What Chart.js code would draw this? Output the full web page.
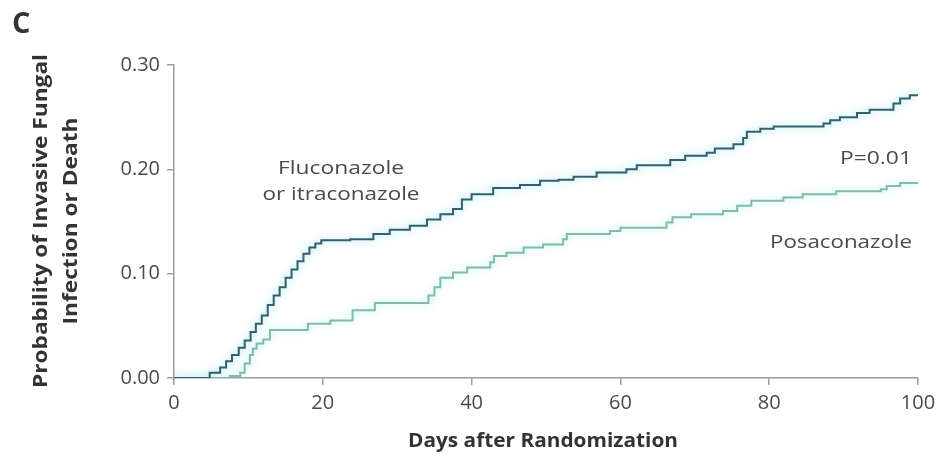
<!DOCTYPE html>
<html>
<head>
<meta charset="utf-8">
<script src="https://cdn.jsdelivr.net/npm/chart.js@4"></script>
<style>
  html, body { margin: 0; padding: 0; background: #ffffff; }
  #wrap { width: 942px; height: 467px; position: relative; }
</style>
</head>
<body>
<div id="wrap"><canvas id="km" width="942" height="467"></canvas></div>
<script>
// Kaplan–Meier style cumulative incidence, day of each step and the value after it
const flucDays = [0, 4.8, 6.2, 7.0, 7.8, 8.7, 9.5, 10.3, 11.0, 11.8, 12.6, 13.4, 14.2, 15.0, 15.8, 16.6, 17.4, 18.2, 19.0, 19.8,
  23.7, 26.8, 29.0, 31.7, 34.0, 35.8, 37.5, 38.7, 40.0, 42.9, 46.5, 49.2, 51.7, 53.7, 56.8, 60.8, 62.2, 66.7, 68.7, 71.6,
  72.7, 75.2, 76.5, 77.0, 78.8, 80.6, 87.3, 88.2, 89.5, 91.8, 93.5, 96.7, 97.6, 98.9, 100];
const flucProb = [0, 0.005, 0.010, 0.016, 0.022, 0.029, 0.036, 0.044, 0.052, 0.060, 0.070, 0.079, 0.087, 0.096, 0.104, 0.112, 0.119, 0.125, 0.129, 0.132,
  0.133, 0.138, 0.142, 0.146, 0.152, 0.157, 0.162, 0.171, 0.176, 0.182, 0.185, 0.189, 0.190, 0.193, 0.197, 0.200, 0.204, 0.209, 0.213, 0.216,
  0.220, 0.224, 0.230, 0.236, 0.239, 0.241, 0.244, 0.247, 0.250, 0.254, 0.257, 0.263, 0.268, 0.271, 0.271];

const posaDays = [0, 7.5, 8.9, 9.5, 10.2, 10.6, 11.1, 12.0, 12.9, 18.0, 21.0, 24.0, 27.0, 34.2, 35.0, 35.8, 37.5, 39.4, 42.5, 43.0,
  44.7, 47.0, 49.6, 52.3, 52.8, 58.6, 60.0, 66.2, 67.0, 69.5, 73.8, 75.7, 77.6, 81.9, 84.5, 89.0, 95.0, 95.8, 97.6, 100];
const posaProb = [0, 0.002, 0.005, 0.014, 0.022, 0.028, 0.033, 0.037, 0.046, 0.052, 0.055, 0.065, 0.072, 0.079, 0.087, 0.096, 0.101, 0.106, 0.111, 0.117,
  0.120, 0.125, 0.128, 0.133, 0.138, 0.141, 0.144, 0.149, 0.154, 0.157, 0.160, 0.165, 0.170, 0.173, 0.176, 0.179, 0.181, 0.184, 0.187, 0.187];

const xTicks = [0, 20, 40, 60, 80, 100];
const yTicks = [0.00, 0.10, 0.20, 0.30];

const seriesNames = ['Fluconazole or itraconazole', 'Posaconazole'];

const toPoints = (days, prob) => days.map((d, i) => ({ x: d, y: prob[i] }));

const FONT = '"Open Sans", "Noto Sans", sans-serif';
const AXIS = '#9c9c9c';
const TEXT = '#4a4a4a';

// soft halo under each curve
const glow = {
  id: 'glow',
  beforeDatasetDraw(chart, args) {
    const ctx = chart.ctx;
    ctx.save();
    ctx.shadowColor = chart.data.datasets[args.index].glowColor;
    ctx.shadowBlur = 8;
  },
  afterDatasetDraw(chart) {
    chart.ctx.restore();
  }
};

// text drawn with a horizontal stretch so it spans the given width
function stretchedText(ctx, text, x, y, align, width) {
  const natural = ctx.measureText(text).width;
  const k = width / natural;
  ctx.save();
  ctx.translate(x, y);
  ctx.scale(k, 1);
  ctx.textAlign = align;
  ctx.fillText(text, 0, 0);
  ctx.restore();
}

// panel letter, axis titles and curve labels
const labels = {
  id: 'labels',
  afterDraw(chart) {
    const ctx = chart.ctx;
    const area = chart.chartArea;
    ctx.save();
    ctx.fillStyle = '#333333';
    ctx.textBaseline = 'alphabetic';

    ctx.font = `700 29px ${FONT}`;
    ctx.textAlign = 'left';
    ctx.fillText('C', 12, 33);

    // y title, two rotated lines
    const yMid = (area.top + area.bottom) / 2;
    ctx.font = `700 20px ${FONT}`;
    ctx.save();
    ctx.translate(0, yMid - 0.5);
    ctx.rotate(-Math.PI / 2);
    stretchedText(ctx, 'Probability of Invasive Fungal', 0, 47, 'center', 334);
    stretchedText(ctx, 'Infection or Death', 0, 77, 'center', 207);
    ctx.restore();

    // x title
    stretchedText(ctx, 'Days after Randomization', (area.left + area.right) / 2 - 3, 447, 'center', 270);

    // curve labels
    ctx.fillStyle = TEXT;
    ctx.font = `400 19px ${FONT}`;
    stretchedText(ctx, 'Fluconazole', 341, 174, 'center', 126);
    stretchedText(ctx, 'or itraconazole', 341, 200, 'center', 157);
    stretchedText(ctx, 'P=0.01', 912, 164, 'right', 72);
    stretchedText(ctx, 'Posaconazole', 912, 248, 'right', 142);
    ctx.restore();
  }
};

new Chart(document.getElementById('km'), {
  type: 'line',
  data: {
    datasets: [
      {
        label: seriesNames[0],
        data: toPoints(flucDays, flucProb),
        borderColor: '#34606c',
        glowColor: 'rgba(110, 215, 235, 0.8)',
        borderWidth: 2,
        stepped: true,
        pointRadius: 0,
        fill: false
      },
      {
        label: seriesNames[1],
        data: toPoints(posaDays, posaProb),
        borderColor: '#7fbcaa',
        glowColor: 'rgba(150, 225, 225, 0.75)',
        borderWidth: 2,
        stepped: true,
        pointRadius: 0,
        fill: false
      }
    ]
  },
  options: {
    responsive: false,
    animation: false,
    devicePixelRatio: 1,
    layout: { padding: { top: 65, right: 24, left: 0, bottom: 0 } },
    plugins: {
      legend: { display: false },
      tooltip: { enabled: false }
    },
    scales: {
      x: {
        type: 'linear',
        min: 0,
        max: 100,
        afterBuildTicks: s => { s.ticks = xTicks.map(v => ({ value: v })); },
        afterFit: s => { s.height = 89; },
        ticks: {
          color: TEXT,
          font: { family: FONT, size: 20 },
          padding: 6,
          maxRotation: 0,
          callback: v => String(v)
        },
        grid: { drawOnChartArea: false, drawTicks: true, tickLength: 7, color: AXIS, lineWidth: 1.5 },
        border: { display: true, color: AXIS, width: 1.5 }
      },
      y: {
        type: 'linear',
        min: 0,
        max: 0.30,
        afterBuildTicks: s => { s.ticks = yTicks.map(v => ({ value: v })); },
        afterFit: s => { s.width = 174; },
        ticks: {
          color: TEXT,
          font: { family: FONT, size: 20 },
          padding: 7,
          callback: v => Number(v).toFixed(2)
        },
        grid: { drawOnChartArea: false, drawTicks: true, tickLength: 7, color: AXIS, lineWidth: 1.5 },
        border: { display: true, color: AXIS, width: 1.5 }
      }
    }
  },
  plugins: [glow, labels]
});
</script>
</body>
</html>
